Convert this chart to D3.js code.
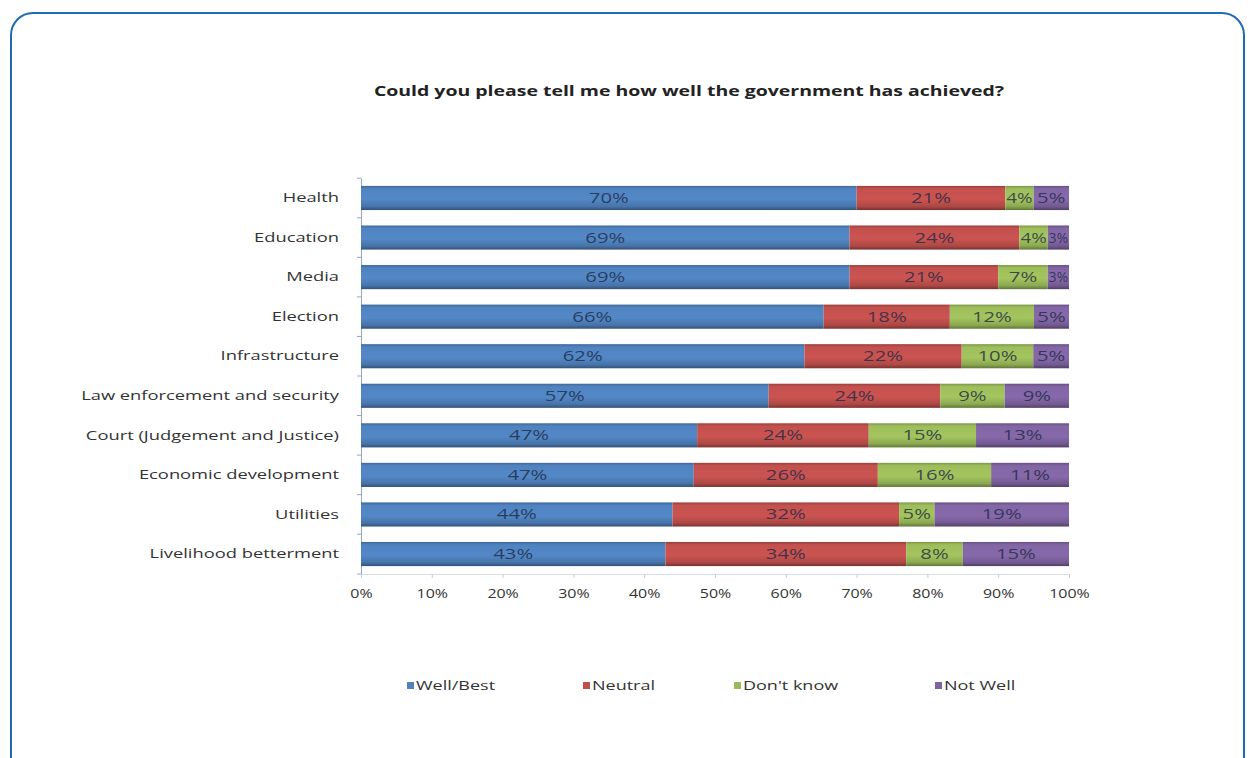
<!DOCTYPE html>
<html>
<head>
<meta charset="utf-8">
<script src="https://cdn.jsdelivr.net/npm/d3@7"></script>
<style>
  html, body { margin: 0; padding: 0; background: #ffffff; }
  svg { display: block; }
  text { font-family: "Open Sans", "Liberation Sans", sans-serif; }
</style>
</head>
<body>
<svg id="chart" width="1253" height="758"></svg>
<script>
// Survey categories, top to bottom
const categories = [
  "Health", "Education", "Media", "Election", "Infrastructure",
  "Law enforcement and security", "Court (Judgement and Justice)",
  "Economic development", "Utilities", "Livelihood betterment"
];
const seriesNames = ["Well/Best", "Neutral", "Don't know", "Not Well"];
// Percentages per answer, one entry per category
const wellBest = [70, 69, 69, 66, 62, 57, 47, 47, 44, 43];
const neutral  = [21, 24, 21, 18, 22, 24, 24, 26, 32, 34];
const dontKnow = [4, 4, 7, 12, 10, 9, 15, 16, 5, 8];
const notWell  = [5, 3, 3, 5, 5, 9, 13, 11, 19, 15];
const tickValues = [0, 0.1, 0.2, 0.3, 0.4, 0.5, 0.6, 0.7, 0.8, 0.9, 1.0];
const titleText = "Could you please tell me how well the government has achieved?";

const colors = ["#4f81bd", "#c0504d", "#9bbb59", "#8064a2"];

const svg = d3.select("#chart");

// Widen text horizontally around its anchor point
function stretch(selection, k) {
  selection.each(function () {
    const t = d3.select(this);
    const x0 = +t.attr("x") || 0, y0 = +t.attr("y") || 0;
    t.attr("x", 0).attr("y", 0)
      .attr("transform", `translate(${x0},${y0}) scale(${k},1)`);
  });
}

// Rounded frame
svg.append("rect")
  .attr("x", 11).attr("y", 13)
  .attr("width", 1233).attr("height", 790)
  .attr("rx", 22).attr("ry", 22)
  .attr("fill", "#ffffff")
  .attr("stroke", "#1f6cb0").attr("stroke-width", 2);

// Bar gradients (lighter middle, darker edges)
const defs = svg.append("defs");
colors.forEach((c, i) => {
  const g = defs.append("linearGradient")
    .attr("id", "grad" + i)
    .attr("x1", 0).attr("y1", 0).attr("x2", 0).attr("y2", 1);
  const base = d3.color(c);
  g.append("stop").attr("offset", "0%").attr("stop-color", base.darker(0.6));
  g.append("stop").attr("offset", "12%").attr("stop-color", base.brighter(0.05));
  g.append("stop").attr("offset", "55%").attr("stop-color", base.brighter(0.15));
  g.append("stop").attr("offset", "85%").attr("stop-color", base.darker(0.3));
  g.append("stop").attr("offset", "100%").attr("stop-color", base.darker(1.3));
});

const margin = { left: 361, right: 184, top: 178, bottom: 184 };
const width = 1253 - margin.left - margin.right;
const height = 758 - margin.top - margin.bottom;

const g = svg.append("g").attr("transform", `translate(${margin.left},${margin.top})`);

const x = d3.scaleLinear().domain([0, 1]).range([0, width]);
const y = d3.scaleBand().domain(categories).range([0, height]).paddingInner(0.39).paddingOuter(0.2);

// Normalised stack (100% stacked bars)
const rows = categories.map((c, i) => ({
  cat: c,
  "Well/Best": wellBest[i],
  "Neutral": neutral[i],
  "Don't know": dontKnow[i],
  "Not Well": notWell[i]
}));
const stack = d3.stack().keys(seriesNames).offset(d3.stackOffsetExpand);
const layers = stack(rows);

// Title
svg.append("text")
  .attr("x", 689).attr("y", 96)
  .attr("text-anchor", "middle")
  .attr("font-size", 14).attr("font-weight", "bold")
  .attr("fill", "#222")
  .text(titleText)
  .call(stretch, 1.39);

// Y axis
const yAxis = g.append("g").call(d3.axisLeft(y).tickSize(0).tickPadding(22));
yAxis.select(".domain").attr("stroke", "#9aa8bd");
yAxis.selectAll("text").attr("font-size", 13).attr("fill", "#333").call(stretch, 1.41);
// small ticks between categories
const bounds = d3.range(categories.length + 1).map(i => i === categories.length ? height : y(categories[i]) - y.step() * y.paddingInner() / 2);
g.selectAll(".ytick").data(bounds).join("line")
  .attr("x1", -4).attr("x2", 0)
  .attr("y1", d => d).attr("y2", d => d)
  .attr("stroke", "#9aa8bd");

// X axis
const xAxis = g.append("g").attr("transform", `translate(0,${height})`)
  .call(d3.axisBottom(x).tickValues(tickValues).tickFormat(d3.format(".0%")).tickSize(4).tickPadding(11));
xAxis.select(".domain").attr("stroke", "#d8dde5");
xAxis.selectAll(".tick line").attr("stroke", "#c8ced8");
xAxis.selectAll("text").attr("font-size", 12).attr("fill", "#333").call(stretch, 1.33);

// Bars
layers.forEach((layer, li) => {
  g.append("g").selectAll("rect").data(layer).join("rect")
    .attr("x", d => x(d[0]))
    .attr("y", d => y(d.data.cat))
    .attr("width", d => x(d[1]) - x(d[0]))
    .attr("height", y.bandwidth())
    .attr("fill", `url(#grad${li})`);
});

// Value labels, widened but kept inside their own segment
layers.forEach((layer, li) => {
  g.append("g").selectAll("text").data(layer).join("text")
    .attr("x", d => (x(d[0]) + x(d[1])) / 2)
    .attr("y", d => y(d.data.cat) + y.bandwidth() / 2 + 5)
    .attr("text-anchor", "middle")
    .attr("font-size", 14)
    .attr("fill", "#1d2a45")
    .attr("fill-opacity", 0.8)
    .text(d => d.data[layer.key] + "%")
    .each(function (d) {
      const seg = x(d[1]) - x(d[0]);
      const natural = this.getComputedTextLength();
      const k = Math.min(1.45, (seg - 2) / natural);
      d3.select(this).call(stretch, k);
    });
});

// Legend
const legendX = [407, 583, 734, 935];
const legend = svg.append("g");
seriesNames.forEach((name, i) => {
  legend.append("rect")
    .attr("x", legendX[i]).attr("y", 682)
    .attr("width", 7).attr("height", 7)
    .attr("fill", colors[i]);
  legend.append("text")
    .attr("x", legendX[i] + 9).attr("y", 690)
    .attr("font-size", 12)
    .attr("fill", "#333")
    .text(name)
    .call(stretch, 1.5);
});
</script>
</body>
</html>
